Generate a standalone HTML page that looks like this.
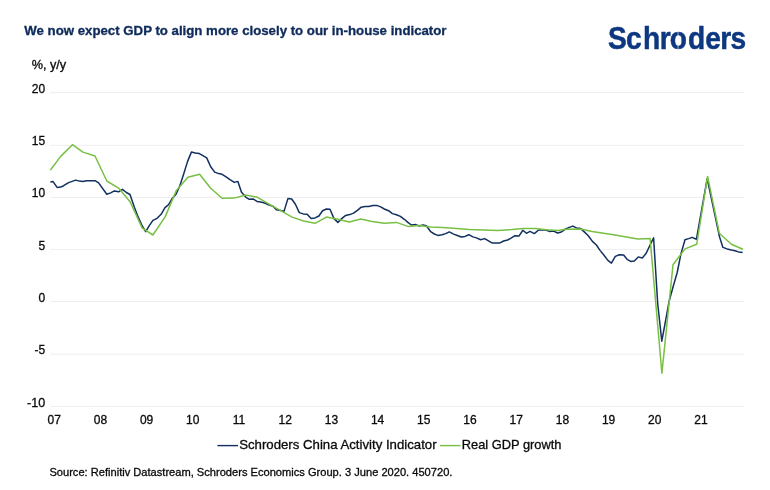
<!DOCTYPE html>
<html lang="en"><head><meta charset="utf-8"><title>We now expect GDP to align more closely to our in-house indicator</title>
<style>html,body{margin:0;padding:0;background:#fff}body{width:770px;height:490px;overflow:hidden}</style></head>
<body>
<svg width="770" height="490" viewBox="0 0 770 490" style="display:block">
<rect width="770" height="490" fill="#fff"/>
<line x1="50.5" x2="744" y1="92.5" y2="92.5" stroke="#eeeeee" stroke-width="1"/>
<line x1="50.5" x2="744" y1="145.3" y2="145.3" stroke="#eeeeee" stroke-width="1"/>
<line x1="50.5" x2="744" y1="197.4" y2="197.4" stroke="#eeeeee" stroke-width="1"/>
<line x1="50.5" x2="744" y1="249.4" y2="249.4" stroke="#eeeeee" stroke-width="1"/>
<line x1="50.5" x2="744" y1="301.5" y2="301.5" stroke="#eeeeee" stroke-width="1"/>
<line x1="50.5" x2="744" y1="354.2" y2="354.2" stroke="#eeeeee" stroke-width="1"/>
<line x1="50.5" x2="744" y1="406.4" y2="406.4" stroke="#eeeeee" stroke-width="1"/>
<text x="24.3" y="34.6" font-family="'Liberation Sans',sans-serif" font-weight="700" font-size="12" fill="#0f2b5b" textLength="422.2" stroke="#0f2b5b" stroke-width="0.3" lengthAdjust="spacingAndGlyphs">We now expect GDP to align more closely to our in-house indicator</text>
<g transform="translate(0,48.7) scale(0.88,1)"><text y="0" x="691.0 711.5 730.7 749.7 761.1 781.7 801.4 818.6 830.2" font-family="'Liberation Sans',sans-serif" font-weight="700" font-size="32" fill="#0d3880" stroke="#0d3880" stroke-width="0.5">Schroders</text></g>
<rect x="677.6" y="31.5" width="0.9" height="5.4" fill="#fff" opacity="0.65"/><rect x="677.6" y="44.2" width="0.9" height="5.2" fill="#fff" opacity="0.65"/>
<text x="31.7" y="68.9" font-family="'Liberation Sans',sans-serif" font-size="12" fill="#0a0a0a" stroke="#0a0a0a" stroke-width="0.3" textLength="34.5" lengthAdjust="spacingAndGlyphs">%, y/y</text>
<text x="45.2" y="93.0" text-anchor="end" font-family="'Liberation Sans',sans-serif" font-size="12" fill="#0a0a0a" stroke="#0a0a0a" stroke-width="0.3">20</text>
<text x="45.2" y="144.8" text-anchor="end" font-family="'Liberation Sans',sans-serif" font-size="12" fill="#0a0a0a" stroke="#0a0a0a" stroke-width="0.3">15</text>
<text x="45.2" y="197.0" text-anchor="end" font-family="'Liberation Sans',sans-serif" font-size="12" fill="#0a0a0a" stroke="#0a0a0a" stroke-width="0.3">10</text>
<text x="45.2" y="250.0" text-anchor="end" font-family="'Liberation Sans',sans-serif" font-size="12" fill="#0a0a0a" stroke="#0a0a0a" stroke-width="0.3">5</text>
<text x="45.2" y="302.0" text-anchor="end" font-family="'Liberation Sans',sans-serif" font-size="12" fill="#0a0a0a" stroke="#0a0a0a" stroke-width="0.3">0</text>
<text x="45.2" y="354.0" text-anchor="end" font-family="'Liberation Sans',sans-serif" font-size="12" fill="#0a0a0a" stroke="#0a0a0a" stroke-width="0.3">-5</text>
<text x="45.2" y="407.0" text-anchor="end" font-family="'Liberation Sans',sans-serif" font-size="12" fill="#0a0a0a" stroke="#0a0a0a" stroke-width="0.3" textLength="18.1" lengthAdjust="spacingAndGlyphs">-10</text>
<text x="54.2" y="423.6" text-anchor="middle" font-family="'Liberation Sans',sans-serif" font-size="12" fill="#0a0a0a" stroke="#0a0a0a" stroke-width="0.3">07</text>
<text x="100.4" y="423.6" text-anchor="middle" font-family="'Liberation Sans',sans-serif" font-size="12" fill="#0a0a0a" stroke="#0a0a0a" stroke-width="0.3">08</text>
<text x="146.6" y="423.6" text-anchor="middle" font-family="'Liberation Sans',sans-serif" font-size="12" fill="#0a0a0a" stroke="#0a0a0a" stroke-width="0.3">09</text>
<text x="192.8" y="423.6" text-anchor="middle" font-family="'Liberation Sans',sans-serif" font-size="12" fill="#0a0a0a" stroke="#0a0a0a" stroke-width="0.3">10</text>
<text x="239.0" y="423.6" text-anchor="middle" font-family="'Liberation Sans',sans-serif" font-size="12" fill="#0a0a0a" stroke="#0a0a0a" stroke-width="0.3">11</text>
<text x="285.2" y="423.6" text-anchor="middle" font-family="'Liberation Sans',sans-serif" font-size="12" fill="#0a0a0a" stroke="#0a0a0a" stroke-width="0.3">12</text>
<text x="331.4" y="423.6" text-anchor="middle" font-family="'Liberation Sans',sans-serif" font-size="12" fill="#0a0a0a" stroke="#0a0a0a" stroke-width="0.3">13</text>
<text x="377.6" y="423.6" text-anchor="middle" font-family="'Liberation Sans',sans-serif" font-size="12" fill="#0a0a0a" stroke="#0a0a0a" stroke-width="0.3">14</text>
<text x="423.8" y="423.6" text-anchor="middle" font-family="'Liberation Sans',sans-serif" font-size="12" fill="#0a0a0a" stroke="#0a0a0a" stroke-width="0.3">15</text>
<text x="470.0" y="423.6" text-anchor="middle" font-family="'Liberation Sans',sans-serif" font-size="12" fill="#0a0a0a" stroke="#0a0a0a" stroke-width="0.3">16</text>
<text x="516.2" y="423.6" text-anchor="middle" font-family="'Liberation Sans',sans-serif" font-size="12" fill="#0a0a0a" stroke="#0a0a0a" stroke-width="0.3">17</text>
<text x="562.4" y="423.6" text-anchor="middle" font-family="'Liberation Sans',sans-serif" font-size="12" fill="#0a0a0a" stroke="#0a0a0a" stroke-width="0.3">18</text>
<text x="608.6" y="423.6" text-anchor="middle" font-family="'Liberation Sans',sans-serif" font-size="12" fill="#0a0a0a" stroke="#0a0a0a" stroke-width="0.3">19</text>
<text x="654.8" y="423.6" text-anchor="middle" font-family="'Liberation Sans',sans-serif" font-size="12" fill="#0a0a0a" stroke="#0a0a0a" stroke-width="0.3">20</text>
<text x="701.0" y="423.6" text-anchor="middle" font-family="'Liberation Sans',sans-serif" font-size="12" fill="#0a0a0a" stroke="#0a0a0a" stroke-width="0.3">21</text>
<path d="M50.4,181.9 L52.9,181.4 L57.1,187.4 L60.7,187.1 L63.6,185.7 L68.6,182.6 L75.7,180.1 L79.3,181.1 L82.9,181.4 L86.4,180.7 L95.0,180.7 L98.6,182.9 L106.8,194.3 L110.7,192.9 L114.4,190.9 L118.6,191.8 L122.4,189.3 L126.4,192.5 L130.0,194.5 L134.3,207.1 L137.9,216.4 L142.1,225.7 L145.7,231.7 L149.3,225.7 L152.9,220.4 L157.1,218.3 L161.1,214.3 L165.0,207.6 L168.6,204.7 L172.1,198.6 L175.9,194.5 L179.6,186.4 L183.6,174.3 L187.6,161.4 L191.4,152.1 L195.3,153.1 L199.3,153.6 L202.9,155.7 L206.7,157.9 L210.7,166.7 L214.7,172.1 L218.6,173.6 L222.1,174.3 L226.1,176.9 L230.0,179.6 L234.3,182.4 L237.9,181.4 L241.4,192.1 L245.7,197.1 L249.3,199.3 L252.9,198.9 L257.1,201.4 L260.7,202.1 L264.6,203.0 L268.6,204.8 L272.9,206.2 L276.4,209.7 L280.7,210.4 L284.0,211.4 L287.9,198.6 L291.7,199.0 L295.4,204.3 L299.3,212.6 L303.3,213.9 L307.1,214.3 L311.1,218.6 L315.0,217.9 L318.9,216.0 L322.6,210.7 L326.4,209.0 L330.0,209.3 L334.0,218.6 L337.9,222.4 L341.7,218.6 L345.7,215.4 L349.7,214.6 L353.6,213.1 L357.4,210.3 L361.2,207.2 L365.0,206.6 L368.6,206.4 L372.9,205.4 L376.7,205.4 L380.7,206.9 L384.3,209.0 L388.6,210.7 L392.4,213.6 L396.4,214.7 L400.4,216.4 L404.3,219.3 L407.9,222.4 L411.4,225.0 L415.7,224.6 L419.3,226.0 L422.9,225.0 L426.4,225.7 L430.7,231.7 L434.3,234.0 L437.9,235.4 L442.1,234.7 L445.7,233.6 L449.3,231.9 L453.6,234.1 L457.4,235.5 L461.2,237.0 L465.0,236.4 L468.9,234.7 L472.9,236.9 L476.4,237.9 L480.7,239.7 L484.6,238.6 L488.1,240.7 L491.9,242.9 L495.7,242.9 L500.0,242.9 L503.6,241.0 L507.6,240.0 L511.4,237.9 L515.0,235.7 L518.9,236.1 L522.9,230.3 L526.4,233.3 L530.0,231.4 L534.3,233.6 L538.6,230.0 L542.1,229.7 L545.7,230.0 L549.3,231.4 L553.6,231.1 L557.6,233.0 L561.4,232.0 L565.0,229.3 L569.3,227.4 L572.9,226.1 L576.4,227.9 L580.7,228.6 L584.3,231.9 L588.3,235.7 L592.4,241.4 L596.4,245.0 L600.0,250.4 L604.0,255.3 L607.9,260.4 L611.4,263.1 L615.3,256.4 L619.3,254.7 L623.6,255.0 L627.1,259.3 L630.7,261.4 L634.3,261.0 L638.3,256.9 L642.3,258.0 L646.0,253.6 L649.6,246.0 L653.6,237.8 L657.7,303.5 L661.8,341.2 L669.3,300.5 L673.6,285.0 L677.2,272.5 L681.0,253.6 L685.0,239.7 L688.6,238.6 L692.1,237.4 L696.4,239.3 L707.2,178.6 L719.5,236.8 L722.9,247.4 L727.1,248.9 L731.4,250.0 L735.0,250.7 L738.6,251.9 L742.6,252.6" fill="none" stroke="#11305f" stroke-width="1.5" stroke-linejoin="round" stroke-linecap="butt"/>
<path d="M50.4,170.0 L60.7,156.4 L72.4,144.7 L82.9,152.1 L95.0,156.0 L106.8,181.0 L118.6,188.1 L130.3,202.1 L142.1,227.9 L152.9,235.0 L165.0,217.1 L176.4,190.4 L187.9,177.3 L199.6,174.3 L210.7,188.3 L222.1,198.3 L234.3,198.1 L245.7,195.0 L257.1,197.1 L268.6,203.9 L280.7,210.7 L292.1,217.1 L303.6,221.0 L315.0,223.3 L326.4,217.1 L337.9,219.3 L349.3,222.1 L360.7,219.1 L372.1,221.4 L384.3,223.3 L396.4,222.4 L407.9,226.4 L419.3,225.4 L430.7,227.1 L442.1,227.6 L453.6,228.3 L469.3,229.6 L483.6,230.0 L497.9,230.4 L512.1,229.6 L523.6,228.6 L535.0,228.6 L546.4,229.7 L557.9,230.5 L565.7,229.3 L580.7,229.0 L592.1,231.4 L603.6,233.3 L615.0,235.0 L626.4,236.9 L637.9,238.9 L650.1,238.6 L661.9,373.2 L673.0,264.8 L685.0,248.9 L696.7,244.3 L707.6,176.4 L719.3,233.2 L731.4,244.3 L742.9,249.3" fill="none" stroke="#78c043" stroke-width="1.5" stroke-linejoin="round" stroke-linecap="butt"/>
<line x1="217.4" x2="238" y1="445.6" y2="445.6" stroke="#11305f" stroke-width="1.4"/>
<text x="239.2" y="449.3" font-family="'Liberation Sans',sans-serif" font-size="13" fill="#0a0a0a" stroke="#0a0a0a" stroke-width="0.3" textLength="197.4" lengthAdjust="spacingAndGlyphs">Schroders China Activity Indicator</text>
<line x1="440" x2="460.6" y1="445.6" y2="445.6" stroke="#78c043" stroke-width="1.4"/>
<text x="461.8" y="449.3" font-family="'Liberation Sans',sans-serif" font-size="13" fill="#0a0a0a" stroke="#0a0a0a" stroke-width="0.3" textLength="99.6" lengthAdjust="spacingAndGlyphs">Real GDP growth</text>
<text x="49.4" y="475.9" font-family="'Liberation Sans',sans-serif" font-size="11" fill="#0a0a0a" stroke="#0a0a0a" stroke-width="0.3" textLength="403" lengthAdjust="spacingAndGlyphs">Source: Refinitiv Datastream, Schroders Economics Group. 3 June 2020. 450720.</text>
</svg>
</body></html>
